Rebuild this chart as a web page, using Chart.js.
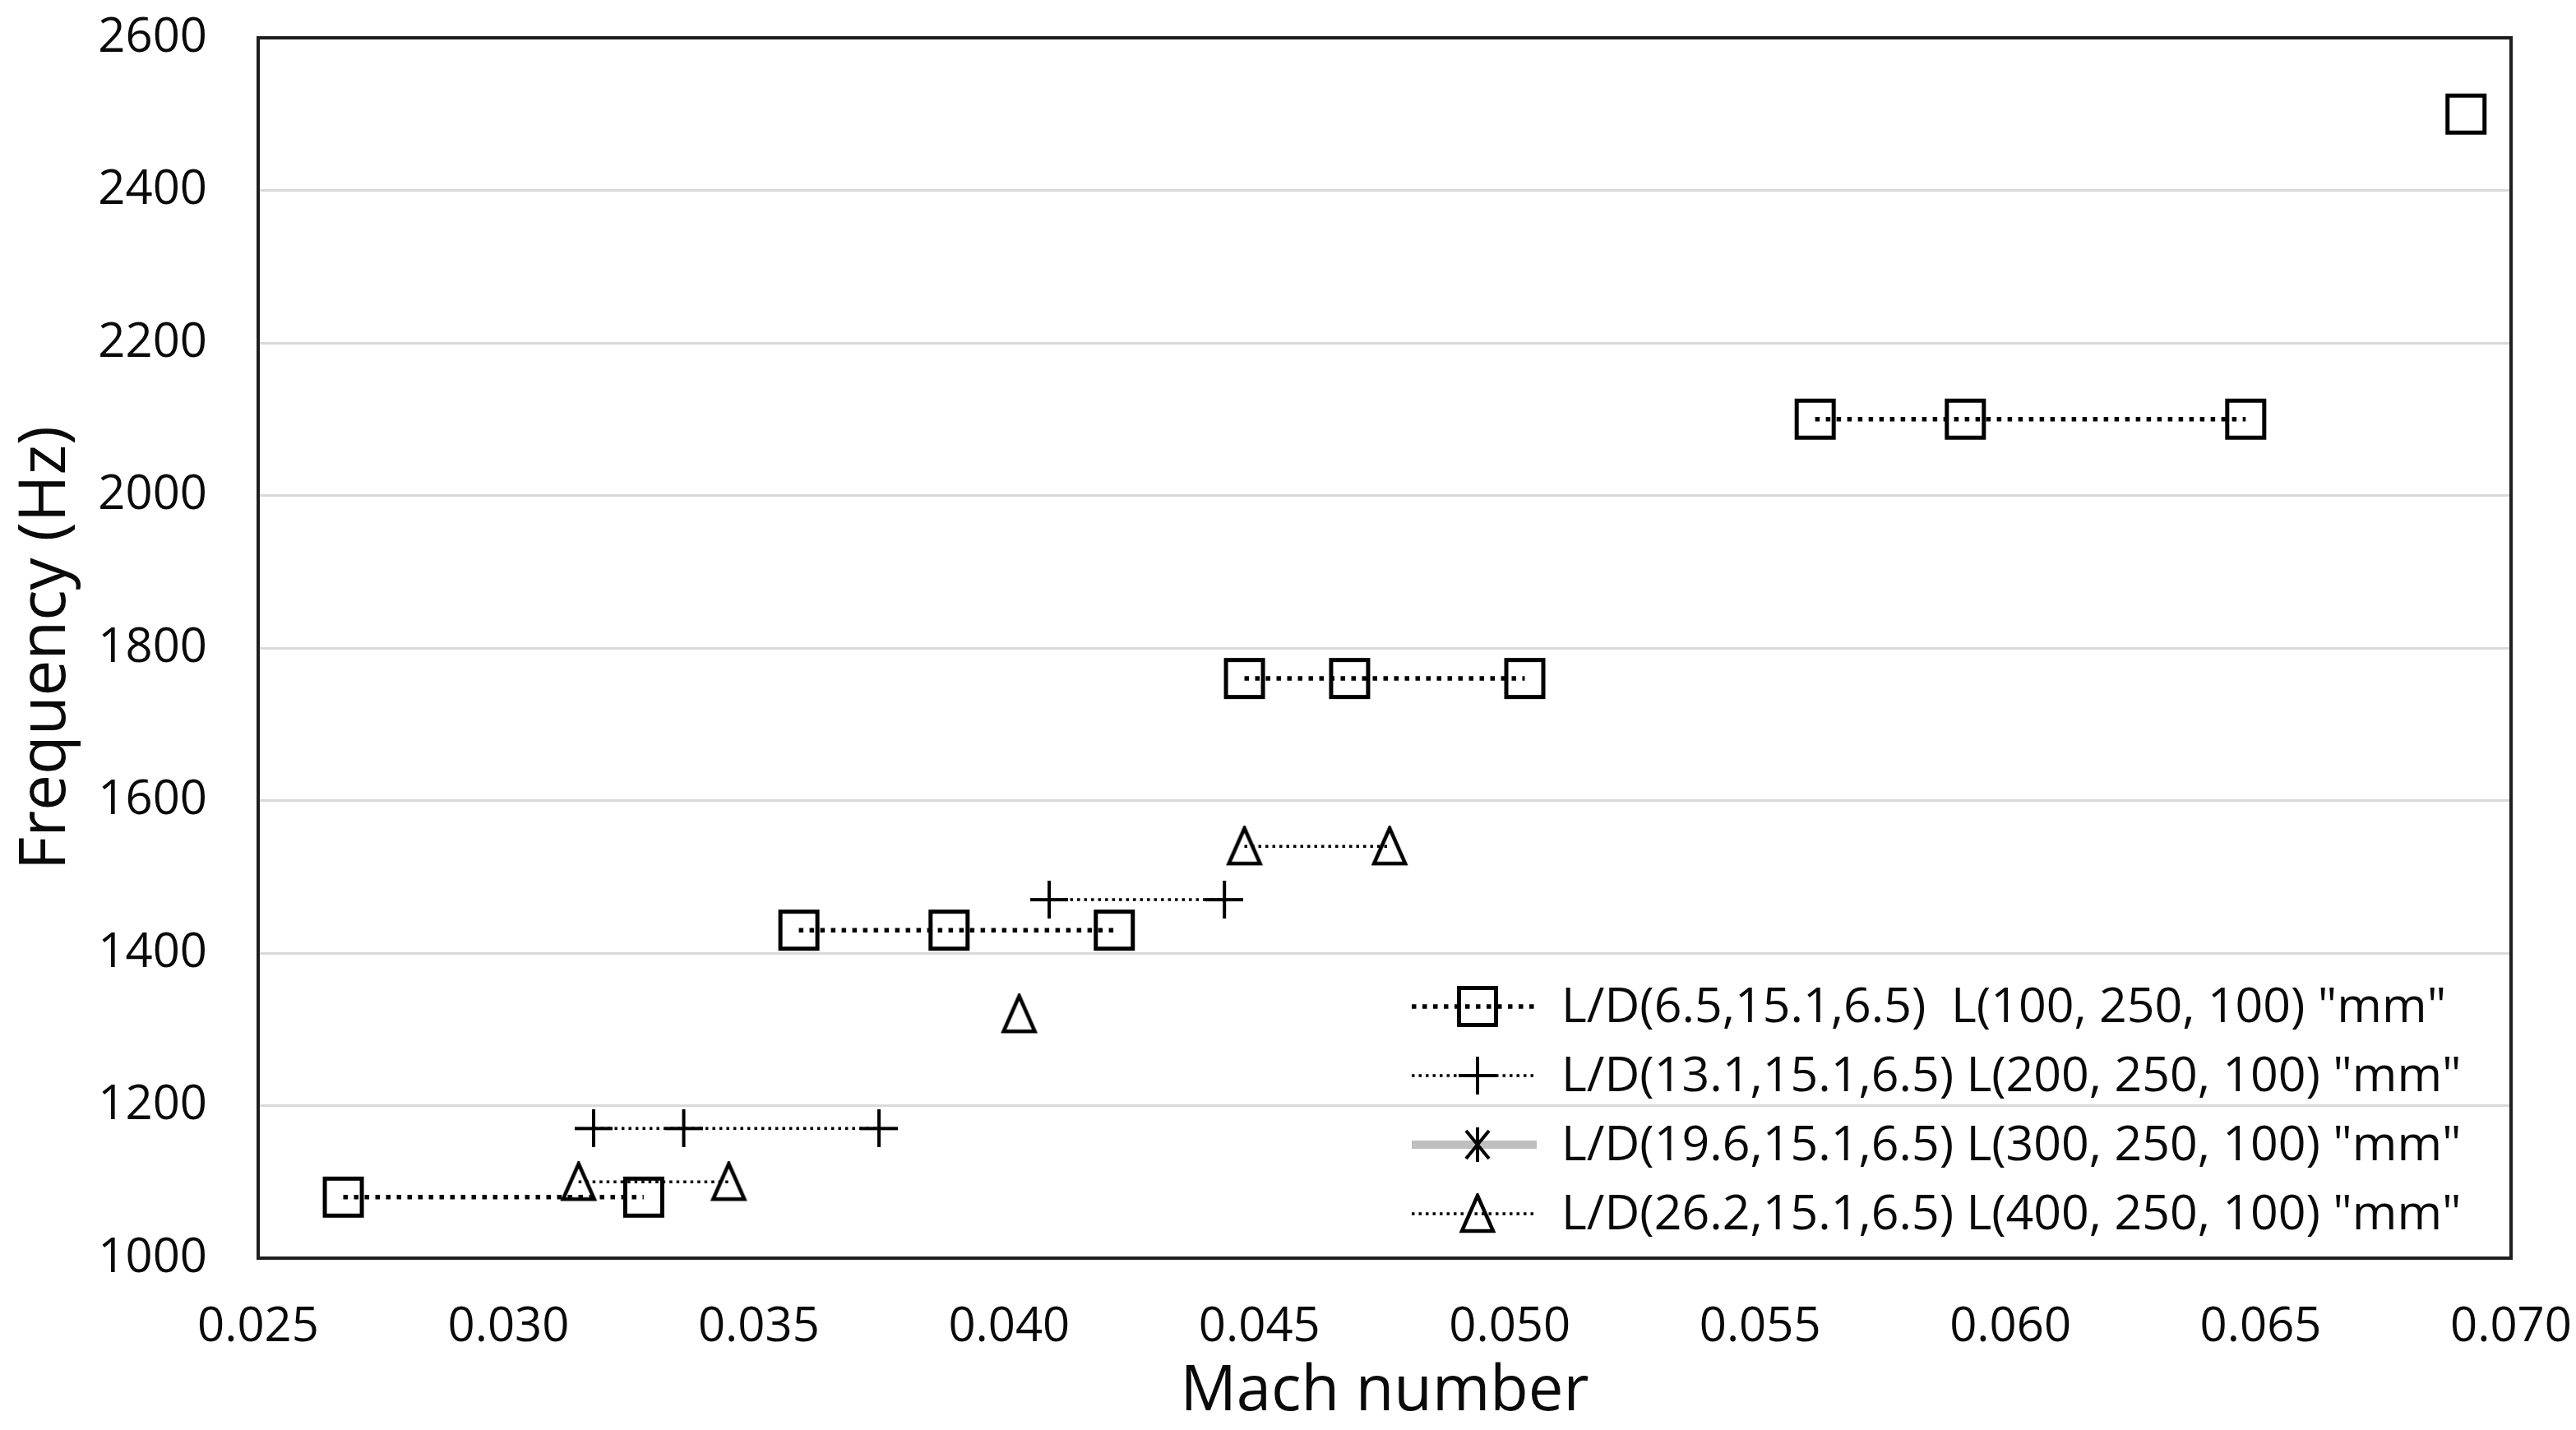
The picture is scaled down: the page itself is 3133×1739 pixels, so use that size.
<!DOCTYPE html>
<html><head><meta charset="utf-8">
<script src="https://cdn.jsdelivr.net/npm/chart.js@4/dist/chart.umd.min.js"></script>
<style>html,body{margin:0;padding:0;background:#fff;overflow:hidden}</style>
</head><body>
<canvas id="c" width="3133" height="1739"></canvas>
<script>
// ---- data (null = break between groups) ----
const seriesLabels = [
  'L/D(6.5,15.1,6.5)  L(100, 250, 100) "mm"',
  'L/D(13.1,15.1,6.5) L(200, 250, 100) "mm"',
  'L/D(19.6,15.1,6.5) L(300, 250, 100) "mm"',
  'L/D(26.2,15.1,6.5) L(400, 250, 100) "mm"'
];
const machSquare = [0.0267, 0.0327, null, 0.0358, 0.0388, 0.0421, null, 0.0447, 0.0468, 0.0503, null, 0.0561, 0.0591, 0.0647, null, 0.0691];
const freqSquare = [1080, 1080, null, 1430, 1430, 1430, null, 1760, 1760, 1760, null, 2100, 2100, 2100, null, 2500];
const machPlus = [0.0317, 0.0335, 0.0374, null, 0.0408, 0.0443];
const freqPlus = [1170, 1170, 1170, null, 1470, 1470];
const machStar = [];
const freqStar = [];
const machTri = [0.0314, 0.0344, null, 0.0402, null, 0.0447, 0.0476];
const freqTri = [1100, 1100, null, 1320, null, 1540, 1540];
const xTicks = [0.025, 0.030, 0.035, 0.040, 0.045, 0.050, 0.055, 0.060, 0.065, 0.070];
const yTicks = [1000, 1200, 1400, 1600, 1800, 2000, 2200, 2400, 2600];
const xTitle = 'Mach number';
const yTitle = 'Frequency (Hz)';

const FONT = '"Open Sans", "Noto Sans", sans-serif';
const TXT = '#0a0a0a';
const CLEAR = 'rgba(0,0,0,0)';

function pts(xs, ys) {
  return xs.map((x, i) => (x === null ? {x: NaN, y: null} : {x: x, y: ys[i]}));
}

// ---- marker images ----
function mk(w, h, draw) {
  const c = document.createElement('canvas');
  c.width = w; c.height = h;
  const g = c.getContext('2d');
  g.strokeStyle = '#000'; g.lineCap = 'butt';
  draw(g);
  return c;
}
const imgSquare = mk(52, 52, g => { g.lineWidth = 5; g.strokeRect(3.5, 3.5, 45, 45); });
const imgPlus = mk(46, 46, g => { g.lineWidth = 4; g.beginPath(); g.moveTo(23, 0); g.lineTo(23, 46); g.moveTo(0, 23); g.lineTo(46, 23); g.stroke(); });
const imgTri = mk(46, 50, g => { g.lineWidth = 4.5; g.lineJoin = 'miter'; g.beginPath(); g.moveTo(23, 3); g.lineTo(42, 46); g.lineTo(4, 46); g.closePath(); g.stroke(); });
const imgStar = mk(44, 46, g => { g.lineWidth = 4; g.beginPath(); g.moveTo(22, 2); g.lineTo(22, 44); g.moveTo(8, 6); g.lineTo(36, 40); g.moveTo(36, 6); g.lineTo(8, 40); g.stroke(); });

const datasets = [
  {label: seriesLabels[0], data: pts(machSquare, freqSquare), showLine: true, borderColor: '#000', borderWidth: 5.5, borderDash: [5.5, 7.5], pointStyle: imgSquare, spanGaps: false},
  {label: seriesLabels[1], data: pts(machPlus, freqPlus), showLine: true, borderColor: '#000', borderWidth: 3.5, borderDash: [3.5, 5], pointStyle: imgPlus, spanGaps: false},
  {label: seriesLabels[2], data: pts(machStar, freqStar), showLine: true, borderColor: '#BFBFBF', borderWidth: 10, borderDash: [], pointStyle: imgStar, spanGaps: false},
  {label: seriesLabels[3], data: pts(machTri, freqTri), showLine: true, borderColor: '#000', borderWidth: 3.5, borderDash: [3.5, 5], pointStyle: imgTri, spanGaps: false}
];

const framePlugin = {
  id: 'frame',
  afterDatasetsDraw(chart) {
    const {ctx, chartArea: a} = chart;
    ctx.save();
    ctx.strokeStyle = '#1e1e1e';
    ctx.lineWidth = 4;
    ctx.strokeRect(a.left, a.top, a.right - a.left, a.bottom - a.top);
    ctx.restore();
  }
};

const legendPlugin = {
  id: 'insideLegend',
  afterDraw(chart) {
    const {ctx, chartArea: a} = chart;
    ctx.save();
    ctx.font = '54px ' + FONT;
    const w54 = ctx.measureText(seriesLabels[1]).width;
    const fs = 54 * 1095 / w54;
    ctx.font = fs + 'px ' + FONT;
    const textX = a.right - 1155;
    const lineX0 = textX - 182, lineX1 = textX - 30, mX = textX - 102;
    const rowY0 = a.bottom - 306, gap = 84;
    chart.data.datasets.forEach((ds, i) => {
      const y = rowY0 + i * gap;
      ctx.save();
      ctx.strokeStyle = ds.borderColor;
      ctx.lineWidth = ds.borderWidth;
      ctx.setLineDash(ds.borderDash || []);
      ctx.beginPath(); ctx.moveTo(lineX0, y); ctx.lineTo(lineX1, y); ctx.stroke();
      ctx.restore();
      const im = ds.pointStyle;
      ctx.drawImage(im, mX - im.width / 2, y - im.height / 2);
      ctx.fillStyle = TXT;
      ctx.textBaseline = 'middle';
      ctx.textAlign = 'left';
      ctx.fillText(ds.label, textX, y + 2);
    });
    ctx.restore();
  }
};

new Chart(document.getElementById('c'), {
  type: 'scatter',
  data: {datasets},
  plugins: [framePlugin, legendPlugin],
  options: {
    responsive: false,
    animation: false,
    devicePixelRatio: 1,
    layout: {padding: {left: 0, right: 79, top: 46, bottom: 0}},
    elements: {point: {radius: 24, hoverRadius: 24}},
    plugins: {legend: {display: false}, tooltip: {enabled: false}},
    scales: {
      x: {
        type: 'linear', min: 0.025, max: 0.070,
        afterBuildTicks: s => { s.ticks = xTicks.map(v => ({value: v})); },
        afterFit: s => { s.height = 209; },
        grid: {display: true, drawOnChartArea: false, color: CLEAR, tickColor: CLEAR, drawTicks: true, tickLength: 50},
        border: {display: false},
        ticks: {color: TXT, font: {family: FONT, size: 58}, padding: 0, maxRotation: 0, autoSkip: false,
                callback: v => Number(v).toFixed(3)},
        title: {display: true, text: xTitle, color: TXT, font: {family: FONT, size: 76}, padding: {top: 0, bottom: 0}}
      },
      y: {
        type: 'linear', min: 1000, max: 2600,
        afterBuildTicks: s => { s.ticks = yTicks.map(v => ({value: v})); },
        afterFit: s => { s.width = 314; },
        grid: {color: '#D9D9D9', lineWidth: 3, drawTicks: true, tickLength: 62, tickColor: CLEAR},
        border: {display: false},
        ticks: {color: TXT, font: {family: FONT, size: 58}, padding: 0, autoSkip: false,
                callback: v => String(v)},
        title: {display: true, text: yTitle, color: TXT, font: {family: FONT, size: 78}, padding: {top: 10, bottom: 0}}
      }
    }
  }
});
</script>
</body></html>
